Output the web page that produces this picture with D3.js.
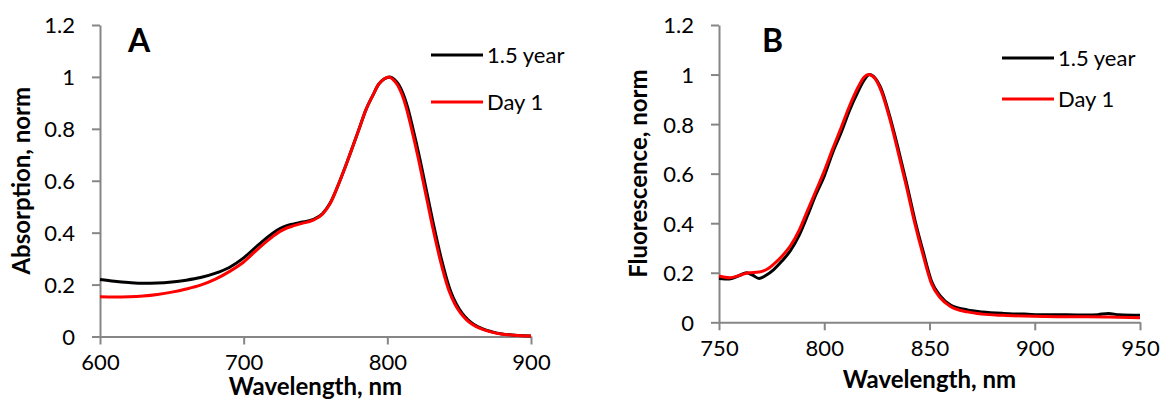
<!DOCTYPE html>
<html>
<head>
<meta charset="utf-8">
<script src="https://cdn.jsdelivr.net/npm/d3@7"></script>
<style>
  html, body { margin: 0; padding: 0; background: #fff; }
  svg { display: block; }
  text { font-family: Lato, "Open Sans", sans-serif; fill: #000; }
</style>
</head>
<body>
<svg id="chart" width="1163" height="401"></svg>
<script>
// ---------- Panel A: absorption ----------
const absWavelength1 = [600,610,620,630,640,650,660,670,680,690,700,710,720,725,730,735,740,748,755,760,767,772,776,781,785,790,794,798,802,805,808,811,814,817,820,823,826,829,832,835,838,841,844,848,852,856,860,866,873,880,887,895,900];
const absYear = [0.22,0.213,0.208,0.205,0.206,0.21,0.217,0.227,0.243,0.266,0.303,0.352,0.397,0.415,0.427,0.434,0.44,0.45,0.474,0.512,0.6,0.672,0.733,0.81,0.872,0.93,0.972,0.993,1.0,0.99,0.97,0.935,0.885,0.82,0.75,0.675,0.595,0.515,0.435,0.36,0.29,0.228,0.175,0.125,0.09,0.065,0.047,0.03,0.018,0.01,0.006,0.003,0.002];
const absWavelength2 = [600,610,620,630,640,650,660,670,680,690,700,710,720,725,730,735,740,748,755,760,767,772,776,781,785,790,794,798,801,804,807,810,813,816,819,822,825,828,831,834,837,840,843,847,851,855,859,865,872,879,886,894,900];
const absDay1 = [0.153,0.152,0.153,0.156,0.162,0.171,0.183,0.198,0.22,0.25,0.287,0.338,0.384,0.404,0.418,0.427,0.435,0.447,0.472,0.51,0.6,0.672,0.733,0.81,0.872,0.93,0.972,0.993,1.0,0.99,0.97,0.935,0.885,0.82,0.75,0.675,0.595,0.515,0.435,0.36,0.29,0.228,0.175,0.125,0.09,0.065,0.047,0.03,0.018,0.01,0.006,0.003,0.002];

// ---------- Panel B: fluorescence ----------
const flWavelength1 = [750,755,760,763,766,769,772,776,780,784,788,792,796,800,804,808,812,816,819,821.5,824,827,831,835,839,843,847,851,855,860,868,875,885,895,905,915,925,930,935,940,950];
const flYear = [0.177,0.175,0.19,0.2,0.19,0.177,0.188,0.213,0.248,0.29,0.35,0.43,0.515,0.59,0.685,0.765,0.855,0.93,0.978,1.0,0.987,0.943,0.835,0.705,0.565,0.415,0.285,0.165,0.108,0.07,0.05,0.042,0.036,0.033,0.03,0.03,0.029,0.031,0.036,0.03,0.028];
const flWavelength2 = [750,755,760,764,769,773,776,780,784,788,792,796,800,804,808,812,816,819,821,824,827,831,835,839,843,847,851,855,860,868,875,885,895,905,915,925,935,950];
const flDay1 = [0.187,0.18,0.19,0.2,0.203,0.215,0.235,0.268,0.31,0.37,0.45,0.53,0.61,0.7,0.785,0.873,0.948,0.99,1.0,0.985,0.935,0.825,0.69,0.55,0.4,0.27,0.155,0.1,0.064,0.042,0.033,0.028,0.025,0.023,0.022,0.022,0.021,0.018];

const seriesNames = ["1.5 year", "Day 1"];
const seriesColors = ["#000000", "#ff0000"];
const yTicks = [0, 0.2, 0.4, 0.6, 0.8, 1, 1.2];
const xTicksA = [600, 700, 800, 900];
const xTicksB = [750, 800, 850, 900, 950];

const svg = d3.select("#chart");
const axisColor = "#868686";

function panel(cfg) {
  const x = d3.scaleLinear().domain(cfg.xDomain).range([cfg.left, cfg.right]);
  const y = d3.scaleLinear().domain([0, 1.2]).range([cfg.bottom, cfg.top]);
  const g = svg.append("g");

  const ya = g.append("g").attr("transform", `translate(${cfg.left},0)`)
    .call(d3.axisLeft(y).tickValues(yTicks).tickSize(8).tickSizeOuter(0).tickPadding(17)
      .tickFormat(d => d3.format("~g")(d)));
  const xa = g.append("g").attr("transform", `translate(0,${cfg.bottom})`)
    .call(d3.axisBottom(x).tickValues(cfg.xTicks).tickSize(8).tickSizeOuter(0).tickPadding(10)
      .tickFormat(d3.format("d")));
  [ya, xa].forEach(a => {
    a.select(".domain").attr("stroke", axisColor).attr("stroke-width", 2);
    a.selectAll(".tick line").attr("stroke", axisColor).attr("stroke-width", 2);
    a.selectAll(".tick text").style("font-family", "Lato, 'Open Sans', sans-serif")
      .style("font-size", "22px").attr("fill", "#000");
  });
  ya.selectAll(".tick text").attr("dy", "0.36em");
  xa.selectAll(".tick text").attr("dy", "0.7em");

  const line = d3.line().x(d => x(d[0])).y(d => y(d[1])).curve(d3.curveMonotoneX);
  cfg.series.forEach((s, i) => {
    g.append("path")
      .datum(s.xs.map((v, k) => [v, s.ys[k]]))
      .attr("fill", "none")
      .attr("stroke", seriesColors[i])
      .attr("stroke-width", 3)
      .attr("stroke-linejoin", "round")
      .attr("d", line);
  });

  seriesNames.forEach((name, i) => {
    const ly = cfg.legendY[i];
    g.append("line").attr("x1", cfg.legendX).attr("x2", cfg.legendX + 52)
      .attr("y1", ly).attr("y2", ly).attr("stroke", seriesColors[i]).attr("stroke-width", 3);
    g.append("text").attr("x", cfg.legendX + 56).attr("y", ly).attr("dy", "0.36em")
      .style("font-size", "22px").text(name);
  });

  g.append("text").attr("x", cfg.letterX).attr("y", 52)
    .style("font-size", "32px").style("font-weight", "bold").text(cfg.letter);

  g.append("text").attr("x", (cfg.left + cfg.right) / 2).attr("y", cfg.xTitleY)
    .attr("text-anchor", "middle").style("font-size", "24px").style("font-weight", "bold")
    .text("Wavelength, nm");
  g.append("text")
    .attr("transform", `translate(${cfg.yTitleX},${(cfg.top + cfg.bottom) / 2}) rotate(-90)`)
    .attr("text-anchor", "middle").style("font-size", "24px").style("font-weight", "bold")
    .text(cfg.yTitle);
}

panel({
  xDomain: [600, 900], left: 100, right: 531, top: 25, bottom: 336.5,
  xTicks: xTicksA,
  series: [{xs: absWavelength1, ys: absYear}, {xs: absWavelength2, ys: absDay1}],
  legendX: 431, legendY: [55, 102], letter: "A", letterX: 128,
  xTitleY: 395, yTitleX: 30, yTitle: "Absorption, norm"
});
panel({
  xDomain: [750, 950], left: 719, right: 1140, top: 25, bottom: 322.3,
  xTicks: xTicksB,
  series: [{xs: flWavelength1, ys: flYear}, {xs: flWavelength2, ys: flDay1}],
  legendX: 1002, legendY: [58, 99], letter: "B", letterX: 762,
  xTitleY: 388, yTitleX: 647, yTitle: "Fluorescence, norm"
});
</script>
</body>
</html>
